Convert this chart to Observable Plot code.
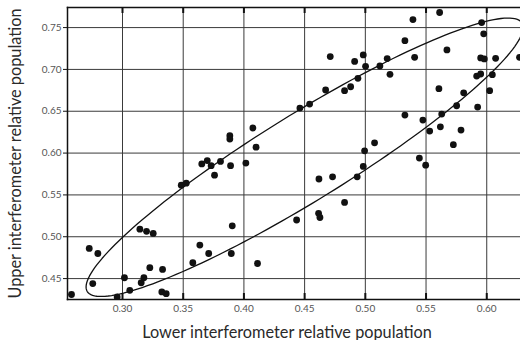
<!DOCTYPE html>
<html>
<head>
<meta charset="utf-8">
<script src="https://cdn.jsdelivr.net/npm/d3@7"></script>
<script src="https://cdn.jsdelivr.net/npm/@observablehq/plot@0.6"></script>
<style>
  html, body { margin: 0; padding: 0; background: #fff; }
  #chart { width: 520px; height: 340px; }
</style>
</head>
<body>
<div id="chart"></div>
<script>
// Lower interferometer relative population (x) of each measurement
const lower = [
  0.258, 0.2726, 0.2797, 0.2755, 0.2956, 0.3016, 0.306, 0.3143, 0.3198, 0.3253,
  0.3154, 0.3176, 0.3225, 0.333, 0.3324, 0.336, 0.3484, 0.3525, 0.3653, 0.3698,
  0.373, 0.3758, 0.3807, 0.389, 0.4016, 0.410, 0.3884, 0.3884, 0.4074, 0.3904,
  0.3637, 0.371, 0.3579, 0.3896, 0.4112, 0.4434, 0.4615, 0.4626, 0.4618, 0.473,
  0.4461, 0.4541, 0.4673, 0.4711, 0.4829, 0.4879, 0.4912, 0.4983, 0.4939, 0.5002,
  0.512, 0.518, 0.5203, 0.5392, 0.5326, 0.5406, 0.5612, 0.5672, 0.5958, 0.5975,
  0.595, 0.598, 0.6073, 0.627, 0.5917, 0.595, 0.6046, 0.6024, 0.5606, 0.581,
  0.5752, 0.5925, 0.5629, 0.5326, 0.5474, 0.553, 0.5618, 0.5788, 0.5725, 0.5076,
  0.4994, 0.4983, 0.4933, 0.4829, 0.5445, 0.5497
];
// Upper interferometer relative population (y) of each measurement
const upper = [
  0.431, 0.486, 0.480, 0.444, 0.428, 0.451, 0.436, 0.509, 0.5065, 0.504,
  0.445, 0.451, 0.463, 0.461, 0.434, 0.432, 0.5616, 0.564, 0.587, 0.591,
  0.585, 0.5736, 0.590, 0.585, 0.588, 0.607, 0.6207, 0.6167, 0.630, 0.513,
  0.490, 0.480, 0.469, 0.480, 0.468, 0.520, 0.528, 0.523, 0.569, 0.5716,
  0.6538, 0.6586, 0.6754, 0.7153, 0.6746, 0.6793, 0.7096, 0.7173, 0.6893, 0.7037,
  0.7041, 0.7129, 0.6941, 0.7596, 0.7344, 0.7144, 0.768, 0.7233, 0.756, 0.7425,
  0.7137, 0.7125, 0.7133, 0.7144, 0.692, 0.6945, 0.6937, 0.6746, 0.677, 0.672,
  0.6566, 0.655, 0.6466, 0.6454, 0.6395, 0.6263, 0.6314, 0.6275, 0.610, 0.6123,
  0.6027, 0.584, 0.5716, 0.541, 0.594, 0.5856
];
// Axis ticks
const xTicks = [0.30, 0.35, 0.40, 0.45, 0.50, 0.55, 0.60];
const yTicks = [0.45, 0.50, 0.55, 0.60, 0.65, 0.70, 0.75];
const xDomain = [0.2547, 0.6278];
const yDomain = [0.425, 0.774];
// Ellipse: centre and conjugate semi-diameters (in data units)
const ellCx = 0.45, ellCy = 0.595;
const ellA = 0.18, ellB = 0.155, ellH = 0.0605;

const points = lower.map((x, i) => ({x, y: upper[i]}));
const ellipse = d3.range(0, 361, 2).map(deg => {
  const t = deg * Math.PI / 180;
  return {x: ellCx + ellA * Math.cos(t), y: ellCy + ellB * Math.cos(t) + ellH * Math.sin(t)};
});

const chart = Plot.plot({
  width: 520,
  height: 340,
  marginLeft: 67,
  marginRight: 0,
  marginTop: 7,
  marginBottom: 41,
  style: {fontFamily: "Lato, 'Open Sans', sans-serif", fontSize: "10px", color: "#555", background: "#fff"},
  x: {domain: xDomain},
  y: {domain: yDomain},
  marks: [
    Plot.gridX(xTicks, {stroke: "#3a3a3a", strokeOpacity: 1, strokeWidth: 1}),
    Plot.gridY(yTicks, {stroke: "#3a3a3a", strokeOpacity: 1, strokeWidth: 1}),
    Plot.ruleX(xTicks, {stroke: "#111", strokeWidth: 2, insetTop: 286}),
    Plot.ruleX(xTicks, {stroke: "#111", strokeWidth: 2, insetBottom: 286}),
    Plot.line(ellipse, {x: "x", y: "y", stroke: "#111", strokeWidth: 1.3, clip: true}),
    Plot.dot(points, {x: "x", y: "y", r: 3.4, fill: "#111", stroke: "none", clip: true}),
    Plot.frame({anchor: "left", stroke: "#111", strokeWidth: 1.5}),
    Plot.frame({anchor: "top", stroke: "#111", strokeWidth: 1.5}),
    Plot.frame({anchor: "bottom", stroke: "#111", strokeWidth: 1.5}),
    Plot.axisX(xTicks, {tickSize: 0, tickPadding: 5, tickFormat: d3.format(".2f"), label: null, fill: "#555"}),
    Plot.axisY(yTicks, {tickSize: 4, tickPadding: 2, tickFormat: d3.format(".2f"), label: null, fill: "#555", stroke: "#111"}),
    Plot.text(["Lower interferometer relative population"], {frameAnchor: "bottom", dy: 33, dx: -7, lineAnchor: "middle", fontSize: 16.3, fill: "#2a2a2a"}),
    Plot.text(["Upper interferometer relative population"], {frameAnchor: "left", dx: -52, rotate: -90, lineAnchor: "middle", textAnchor: "middle", fontSize: 16.3, fill: "#2a2a2a"})
  ]
});
document.getElementById("chart").appendChild(chart);
</script>
</body>
</html>
